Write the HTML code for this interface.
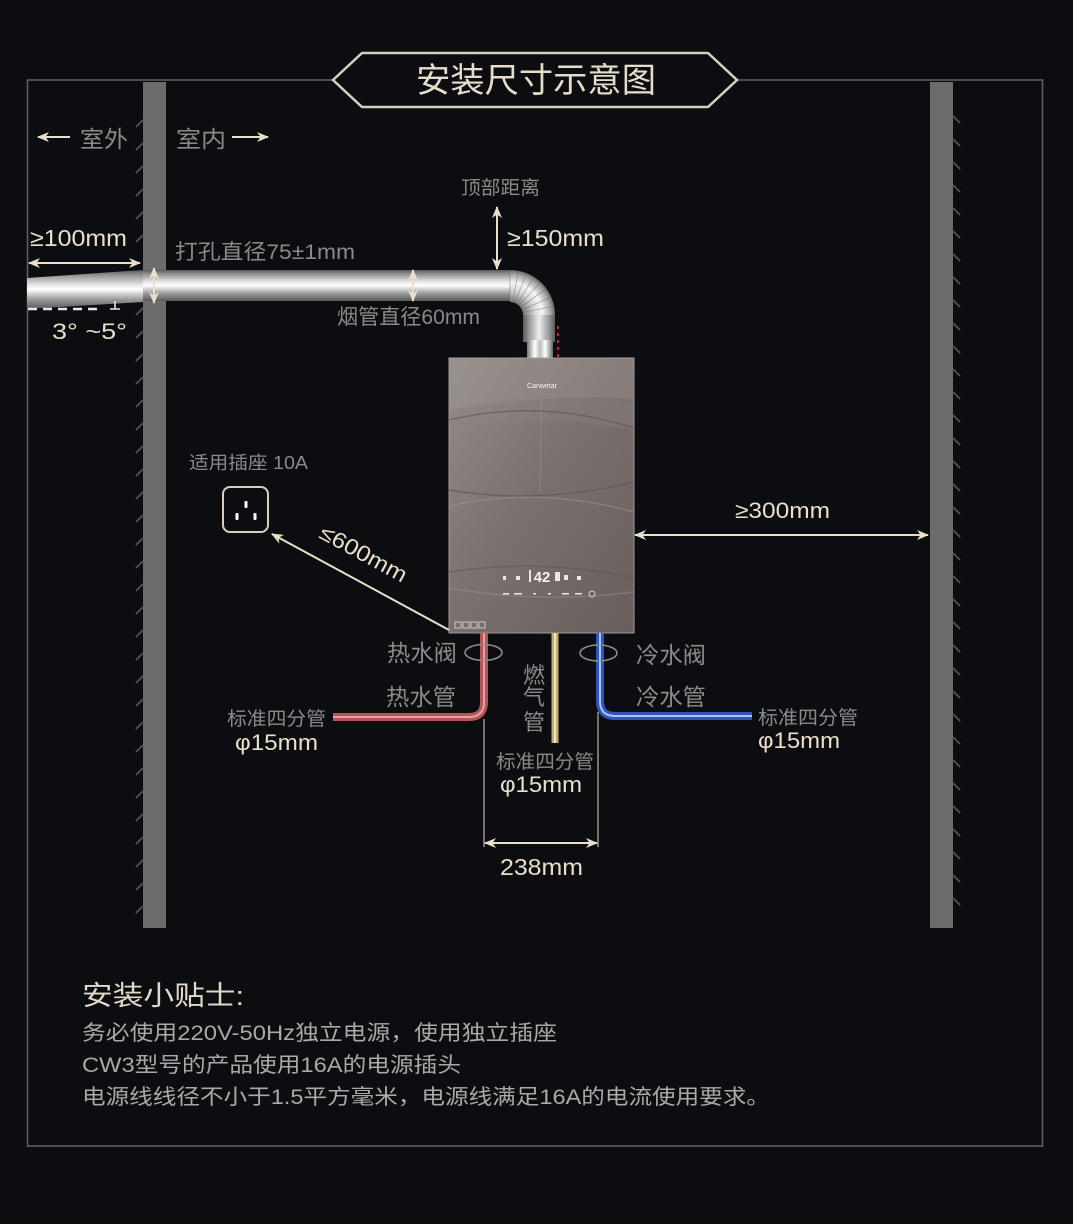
<!DOCTYPE html>
<html><head><meta charset="utf-8">
<style>
html,body{margin:0;padding:0;background:#0c0d11;}
svg{display:block;}
text{font-family:"Liberation Sans","Noto Sans CJK SC",sans-serif;}
</style></head>
<body>
<svg width="1073" height="1224" viewBox="0 0 1073 1224" xmlns="http://www.w3.org/2000/svg">
<defs>
  <marker id="ah" viewBox="0 0 12 10" refX="11" refY="5" markerWidth="12" markerHeight="10" markerUnits="userSpaceOnUse" orient="auto-start-reverse">
    <path d="M0,0 L12,5 L0,10 L3.5,5z" fill="#eadfca"/>
  </marker>
  <linearGradient id="pipeH" x1="0" y1="0" x2="0" y2="1">
    <stop offset="0" stop-color="#5a5a5a"/>
    <stop offset="0.12" stop-color="#8e8e8e"/>
    <stop offset="0.38" stop-color="#e6e6e6"/>
    <stop offset="0.5" stop-color="#ffffff"/>
    <stop offset="0.75" stop-color="#9c9c9c"/>
    <stop offset="1" stop-color="#585858"/>
  </linearGradient>
  <linearGradient id="pipeV" x1="0" y1="0" x2="1" y2="0">
    <stop offset="0" stop-color="#5a5a5a"/>
    <stop offset="0.2" stop-color="#9a9a9a"/>
    <stop offset="0.5" stop-color="#eeeeee"/>
    <stop offset="0.8" stop-color="#9c9c9c"/>
    <stop offset="1" stop-color="#5a5a5a"/>
  </linearGradient>
  <linearGradient id="collar" x1="0" y1="0" x2="1" y2="0">
    <stop offset="0" stop-color="#777"/>
    <stop offset="0.3" stop-color="#fff"/>
    <stop offset="0.5" stop-color="#bbb"/>
    <stop offset="0.7" stop-color="#fff"/>
    <stop offset="1" stop-color="#666"/>
  </linearGradient>
  <radialGradient id="elbow" gradientUnits="userSpaceOnUse" cx="510" cy="315" r="45">
    <stop offset="0" stop-color="#555"/>
    <stop offset="0.3" stop-color="#7a7a7a"/>
    <stop offset="0.55" stop-color="#d8d8d8"/>
    <stop offset="0.72" stop-color="#f6f6f6"/>
    <stop offset="0.9" stop-color="#a8a8a8"/>
    <stop offset="1" stop-color="#666"/>
  </radialGradient>
  <linearGradient id="heater" x1="0" y1="0" x2="1" y2="1">
    <stop offset="0" stop-color="#958d8a"/>
    <stop offset="0.45" stop-color="#7b7270"/>
    <stop offset="1" stop-color="#675e5c"/>
  </linearGradient>
</defs>

<rect width="1073" height="1224" fill="#0c0d11"/>

<!-- outer frame -->
<rect x="27.5" y="80" width="1015" height="1066" fill="none" stroke="#5e5e5e" stroke-width="1.6"/>

<!-- walls -->
<rect x="143" y="82" width="23" height="846" fill="#6c6c6c"/>
<rect x="930" y="82" width="23" height="846" fill="#6c6c6c"/>
<g stroke="#565656" stroke-width="1.6">
  <path d="M136,127 L143,120 M136,150 L143,143 M136,173 L143,166 M136,196 L143,189 M136,219 L143,212 M136,242 L143,235 M136,315 L143,308 M136,338 L143,331 M136,361 L143,354 M136,384 L143,377 M136,407 L143,400 M136,430 L143,423 M136,453 L143,446 M136,476 L143,469 M136,499 L143,492 M136,522 L143,515 M136,545 L143,538 M136,568 L143,561 M136,591 L143,584 M136,614 L143,607 M136,637 L143,630 M136,660 L143,653 M136,683 L143,676 M136,706 L143,699 M136,729 L143,722 M136,752 L143,745 M136,775 L143,768 M136,798 L143,791 M136,821 L143,814 M136,844 L143,837 M136,867 L143,860 M136,890 L143,883 M136,913 L143,906"/>
  <path d="M953,116 L960,123 M953,139 L960,146 M953,162 L960,169 M953,185 L960,192 M953,208 L960,215 M953,231 L960,238 M953,254 L960,261 M953,277 L960,284 M953,300 L960,307 M953,323 L960,330 M953,346 L960,353 M953,369 L960,376 M953,392 L960,399 M953,415 L960,422 M953,438 L960,445 M953,461 L960,468 M953,484 L960,491 M953,507 L960,514 M953,530 L960,537 M953,553 L960,560 M953,576 L960,583 M953,599 L960,606 M953,622 L960,629 M953,645 L960,652 M953,668 L960,675 M953,691 L960,698 M953,714 L960,721 M953,737 L960,744 M953,760 L960,767 M953,783 L960,790 M953,806 L960,813 M953,829 L960,836 M953,852 L960,859 M953,875 L960,882 M953,898 L960,905"/>
</g>

<!-- title -->
<polygon points="333,80 362,53 708,53 737,80 708,107 362,107" fill="#0c0d11" stroke="#d9cfbf" stroke-width="2.5"/>
<text x="536" y="92" font-size="34" fill="#e6dccb" text-anchor="middle" textLength="240" lengthAdjust="spacingAndGlyphs">安装尺寸示意图</text>

<!-- indoor/outdoor -->
<line x1="70" y1="137" x2="38" y2="137" stroke="#eadfca" stroke-width="2" marker-end="url(#ah)"/>
<text x="80" y="147" font-size="23" fill="#8a8a8a" textLength="48" lengthAdjust="spacingAndGlyphs">室外</text>
<text x="176" y="147" font-size="23" fill="#8a8a8a" textLength="50" lengthAdjust="spacingAndGlyphs">室内</text>
<line x1="232" y1="137" x2="268" y2="137" stroke="#eadfca" stroke-width="2" marker-end="url(#ah)"/>

<!-- flue pipe -->
<polygon points="27,278 143,270 143,302 27,309" fill="url(#pipeH)"/>
<rect x="143" y="270" width="368" height="31" fill="url(#pipeH)"/>
<path d="M510,270 A45,45 0 0 1 555,315 L523,315 A13,13 0 0 0 510,302 Z" fill="url(#elbow)"/>
<g stroke="#6a6a6a" stroke-width="0.7" opacity="0.6">
  <path d="M510,315 m0,-14 l0,-31 M510,315 m5.1,-13 l11.4,-28.8 M510,315 m9.5,-10.5 l21,-22 M510,315 m12.5,-5.5 l28,-12 M510,315 m2.6,-13.7 l5.8,-30.5 M510,315 m7.5,-11.8 l16.5,-26 M510,315 m11.3,-8.2 l25,-18 M510,315 m13.5,-2.7 l30,-6"/>
</g>
<rect x="523" y="315" width="32" height="27" fill="url(#pipeV)"/>
<rect x="527" y="340" width="26" height="19" fill="url(#collar)"/>
<line x1="558" y1="326" x2="558" y2="357" stroke="#d42020" stroke-width="2" stroke-dasharray="3,4"/>

<!-- flue dimensions -->
<line x1="29" y1="263" x2="140" y2="263" stroke="#eadfca" stroke-width="2" marker-start="url(#ah)" marker-end="url(#ah)"/>
<text x="30" y="246" font-size="23" fill="#eadfca" textLength="97" lengthAdjust="spacingAndGlyphs">≥100mm</text>
<line x1="154" y1="268" x2="154" y2="303" stroke="#eadfca" stroke-width="2" marker-start="url(#ah)" marker-end="url(#ah)"/>
<line x1="413" y1="270" x2="413" y2="301" stroke="#eadfca" stroke-width="2" marker-start="url(#ah)" marker-end="url(#ah)"/>
<text x="175" y="259" font-size="21" fill="#8a8a8a" textLength="180" lengthAdjust="spacingAndGlyphs">打孔直径75±1mm</text>
<text x="337" y="324" font-size="21" fill="#8a8a8a" textLength="143" lengthAdjust="spacingAndGlyphs">烟管直径60mm</text>
<text x="461" y="194" font-size="19" fill="#8a8a8a" textLength="79" lengthAdjust="spacingAndGlyphs">顶部距离</text>
<line x1="497" y1="207" x2="497" y2="269" stroke="#eadfca" stroke-width="2" marker-start="url(#ah)" marker-end="url(#ah)"/>
<text x="507" y="246" font-size="23" fill="#eadfca" textLength="97" lengthAdjust="spacingAndGlyphs">≥150mm</text>

<!-- slope -->
<path d="M28,309 H100" stroke="#e8e8e8" stroke-width="2.5" stroke-dasharray="9,6"/>
<path d="M110,309 H120 M115,309 V301" stroke="#e8e8e8" stroke-width="1.6"/>
<text x="52" y="339" font-size="22" fill="#eadfca" textLength="75" lengthAdjust="spacingAndGlyphs">3° ~5°</text>

<!-- heater -->
<rect x="449" y="358" width="185" height="275" fill="url(#heater)" stroke="#a39b97" stroke-width="1"/>
<path d="M449.5,358.5 L633.5,358.5 L633.5,400 Q560,392 449.5,410 Z" fill="#a39b97" opacity="0.35"/>
<path d="M449.5,410 Q540,388 633.5,402 L633.5,430 Q540,412 449.5,430 Z" fill="#8c8380" opacity="0.35"/>
<line x1="542" y1="358" x2="540" y2="492" stroke="#9e9692" stroke-width="1" opacity="0.5"/>
<g fill="none" stroke-width="1.4">
  <path d="M449,420 Q540,398 634,428" stroke="#5c5452" opacity="0.6"/>
  <path d="M449,490 Q540,505 634,482" stroke="#5c5452" opacity="0.6"/>
  <path d="M449,506 Q540,486 634,512" stroke="#a09894" opacity="0.5"/>
  <path d="M449,572 Q540,558 634,578" stroke="#5c5452" opacity="0.5"/>
  <path d="M449,588 Q540,604 634,592" stroke="#a09894" opacity="0.4"/>
</g>
<text x="542" y="388" font-size="7" fill="#f2f2f2" text-anchor="middle">Canwetar</text>
<text x="542" y="582" font-size="15" font-weight="bold" fill="#f4f4f4" text-anchor="middle">42</text>
<g fill="#e8e8e8">
  <rect x="503" y="576" width="3" height="4"/><rect x="516" y="576" width="4" height="4"/>
  <rect x="529" y="570" width="2" height="12"/><rect x="555" y="572" width="5" height="9"/>
  <rect x="564" y="575" width="4" height="5"/><rect x="577" y="576" width="4" height="4"/>
  <rect x="503" y="593" width="6" height="1.5"/><rect x="514" y="593" width="8" height="1.5"/>
  <rect x="533" y="593" width="3" height="1.5"/><rect x="548" y="593" width="3" height="1.5"/>
  <rect x="562" y="593" width="7" height="1.5"/><rect x="575" y="593" width="7" height="1.5"/>
</g>
<circle cx="592" cy="594" r="3" fill="none" stroke="#e8e8e8" stroke-width="0.8"/>
<g fill="none" stroke="#e0e0e0" stroke-width="0.8">
  <rect x="455" y="622" width="6" height="6"/><rect x="463" y="622" width="6" height="6"/>
  <rect x="471" y="622" width="6" height="6"/><rect x="479" y="622" width="6" height="6"/>
</g>

<!-- right dimension -->
<line x1="635" y1="535" x2="928" y2="535" stroke="#eadfca" stroke-width="2" marker-start="url(#ah)" marker-end="url(#ah)"/>
<text x="735" y="518" font-size="22" fill="#eadfca" textLength="95" lengthAdjust="spacingAndGlyphs">≥300mm</text>

<!-- socket -->
<text x="189" y="469" font-size="18" fill="#8a8a8a" textLength="119" lengthAdjust="spacingAndGlyphs">适用插座 10A</text>
<rect x="223" y="487" width="45" height="45" rx="7" fill="#0c0d11" stroke="#d9cfbf" stroke-width="2"/>
<g fill="#ffffff">
  <rect x="244.5" y="501" width="3" height="7" rx="1"/>
  <rect x="235.5" y="513" width="3" height="7" rx="1"/>
  <rect x="253.5" y="513" width="3" height="7" rx="1"/>
</g>
<line x1="449" y1="630" x2="272" y2="534" stroke="#eadfca" stroke-width="2" marker-end="url(#ah)"/>
<text x="360" y="560" font-size="22" fill="#eadfca" text-anchor="middle" transform="rotate(28.5 360 560)" textLength="96" lengthAdjust="spacingAndGlyphs">≤600mm</text>

<!-- water & gas pipes -->
<path d="M484,633 V702 Q484,717 469,717 H333" fill="none" stroke="#b4555a" stroke-width="8"/>
<path d="M484,633 V702 Q484,717 469,717 H333" fill="none" stroke="#f0b4b4" stroke-width="2" opacity="0.8"/>
<path d="M600,633 V701 Q600,716 615,716 H752" fill="none" stroke="#2f56bf" stroke-width="8"/>
<path d="M600,633 V701 Q600,716 615,716 H752" fill="none" stroke="#c4d6ff" stroke-width="2" opacity="0.85"/>
<line x1="555" y1="633" x2="555" y2="743" stroke="#c4ab72" stroke-width="7"/>
<line x1="555" y1="633" x2="555" y2="743" stroke="#f2e4b8" stroke-width="2"/>

<ellipse cx="483.5" cy="652.5" rx="18.5" ry="8" fill="none" stroke="#8c8c8c" stroke-width="1.6"/>
<ellipse cx="598.5" cy="653" rx="18.5" ry="8" fill="none" stroke="#8c8c8c" stroke-width="1.6"/>

<text x="387" y="661" font-size="23" fill="#8a8a8a" textLength="70" lengthAdjust="spacingAndGlyphs">热水阀</text>
<text x="386" y="705" font-size="23" fill="#8a8a8a" textLength="70" lengthAdjust="spacingAndGlyphs">热水管</text>
<text x="534" y="683" font-size="22" fill="#8a8a8a" text-anchor="middle">燃</text>
<text x="534" y="705" font-size="22" fill="#8a8a8a" text-anchor="middle">气</text>
<text x="534" y="730" font-size="22" fill="#8a8a8a" text-anchor="middle">管</text>
<text x="636" y="663" font-size="23" fill="#8a8a8a" textLength="70" lengthAdjust="spacingAndGlyphs">冷水阀</text>
<text x="636" y="705" font-size="23" fill="#8a8a8a" textLength="70" lengthAdjust="spacingAndGlyphs">冷水管</text>

<text x="227" y="725" font-size="19" fill="#8a8a8a" textLength="99" lengthAdjust="spacingAndGlyphs">标准四分管</text>
<text x="235" y="750" font-size="22" fill="#eadfca" textLength="83" lengthAdjust="spacingAndGlyphs">φ15mm</text>
<text x="758" y="724" font-size="19" fill="#8a8a8a" textLength="100" lengthAdjust="spacingAndGlyphs">标准四分管</text>
<text x="758" y="748" font-size="22" fill="#eadfca" textLength="82" lengthAdjust="spacingAndGlyphs">φ15mm</text>
<text x="496" y="768" font-size="19" fill="#8a8a8a" textLength="98" lengthAdjust="spacingAndGlyphs">标准四分管</text>
<text x="500" y="792" font-size="22" fill="#eadfca" textLength="82" lengthAdjust="spacingAndGlyphs">φ15mm</text>

<!-- 238 dimension -->
<line x1="484" y1="719" x2="484" y2="847" stroke="#bdb6aa" stroke-width="1.2"/>
<line x1="598" y1="712" x2="598" y2="847" stroke="#bdb6aa" stroke-width="1.2"/>
<line x1="485" y1="843" x2="597" y2="843" stroke="#eadfca" stroke-width="2" marker-start="url(#ah)" marker-end="url(#ah)"/>
<text x="500" y="875" font-size="23" fill="#eadfca" textLength="83" lengthAdjust="spacingAndGlyphs">238mm</text>

<!-- tips -->
<text x="82" y="1005" font-size="27" fill="#e2d9c8" textLength="162" lengthAdjust="spacingAndGlyphs">安装小贴士:</text>
<text x="82" y="1040" font-size="21" fill="#a9a9a9" textLength="475" lengthAdjust="spacingAndGlyphs">务必使用220V-50Hz独立电源，使用独立插座</text>
<text x="82" y="1072" font-size="21" fill="#a9a9a9" textLength="379" lengthAdjust="spacingAndGlyphs">CW3型号的产品使用16A的电源插头</text>
<text x="82" y="1104" font-size="21" fill="#a9a9a9" textLength="688" lengthAdjust="spacingAndGlyphs">电源线线径不小于1.5平方毫米，电源线满足16A的电流使用要求。</text>
</svg>
</body></html>
